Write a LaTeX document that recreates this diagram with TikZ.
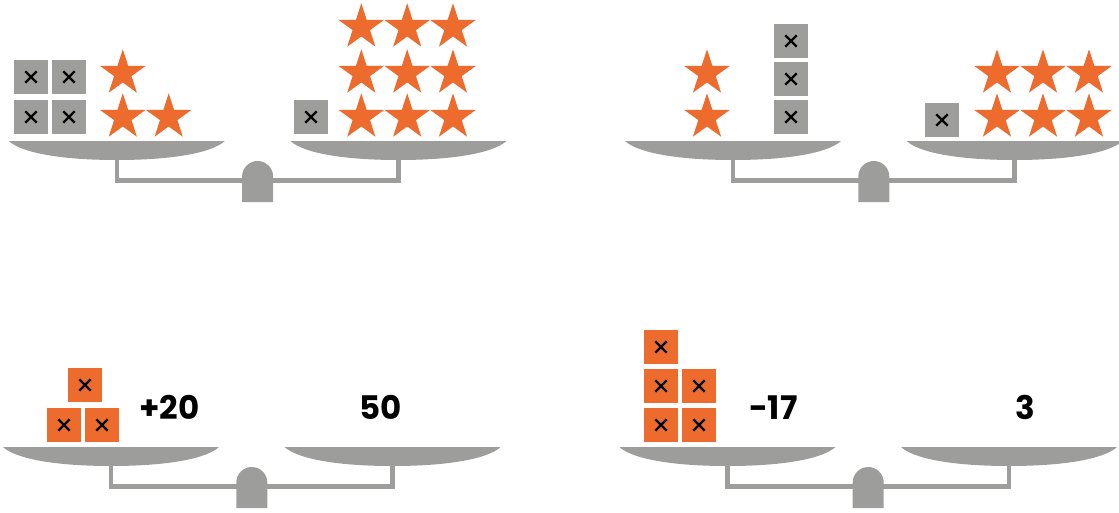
\documentclass[tikz,border=0pt]{standalone}
\usepackage{fontspec}
\setmainfont{Poppins}[BoldFont={* Bold}]
\usetikzlibrary{shapes.geometric}
\definecolor{scalegray}{HTML}{9D9D9C}
\definecolor{orng}{HTML}{EE6B2E}
\tikzset{
  xmark/.style={path picture={
    \draw[line width=2.3pt,black]
      ([shift={(-5.7pt,-5.7pt)}]path picture bounding box.center) -- ([shift={(5.7pt,5.7pt)}]path picture bounding box.center)
      ([shift={(-5.7pt,5.7pt)}]path picture bounding box.center) -- ([shift={(5.7pt,-5.7pt)}]path picture bounding box.center);}},
  graybox/.style={rectangle, minimum size=34pt, inner sep=0pt, fill=scalegray, xmark},
  orangebox/.style={rectangle, minimum size=34pt, inner sep=0pt, fill=orng, xmark},
  ostar/.style={star, star points=5, star point ratio=2.618, minimum size=48pt, inner sep=0pt, fill=orng},
  num/.style={anchor=base, inner sep=0pt, font=\fontsize{32.5}{36}\selectfont\bfseries},
  pan/.style={fill=scalegray},
  beam/.style={draw=scalegray, line width=4.6pt, miter limit=10},
}
\newcommand\drawbalance[2]{%
  \begin{scope}[shift={(#1,#2)}]
    \draw[beam] (-140.8,17) -- (-140.8,39.5) -- (140.8,39.5) -- (140.8,17);
    \foreach \c in {-140.8,140.8}{
      \fill[pan] (\c-108,0) -- (\c+108,0) .. controls (\c+95,12) and (\c+55,19) .. (\c,19)
        .. controls (\c-55,19) and (\c-95,12) .. cycle;
    }
    \fill[scalegray] (-15.5,61) -- (-15.5,35.5) arc[start angle=180, end angle=360, radius=15.5] -- (15.5,61) -- cycle;
  \end{scope}}
\begin{document}
\begin{tikzpicture}[x=1pt,y=-1pt]
\useasboundingbox (0,0) rectangle (1119,512);
% balances
\drawbalance{257.6}{141}
\drawbalance{873.8}{141}
\drawbalance{251.8}{447}
\drawbalance{868.2}{447}
% top-left
\node[graybox] (a1) at (31,77) {};
\node[graybox] (a2) at (69,77) {};
\node[graybox] (a3) at (31,117) {};
\node[graybox] (a4) at (69,117) {};
\node[ostar] (s1) at (122.8,73.3) {};
\node[ostar] (s2) at (122.8,117.3) {};
\node[ostar] (s3) at (168.7,117.3) {};
\node[graybox] (a5) at (311,117) {};
\foreach \i/\x in {1/361.3,2/407.2,3/453}{
  \foreach \j/\y in {1/27.3,2/73.3,3/117.3}{
    \node[ostar] (r\i\j) at (\x,\y) {};
  }
}
% top-right
\node[ostar] (t1) at (707,73.3) {};
\node[ostar] (t2) at (707,117.3) {};
\node[graybox] (b1) at (791,41) {};
\node[graybox] (b2) at (791,79) {};
\node[graybox] (b3) at (791,117) {};
\node[graybox] (b4) at (942,120) {};
\foreach \i/\x in {1/997,2/1043,3/1089}{
  \foreach \j/\y in {1/73.3,2/117.3}{
    \node[ostar] (u\i\j) at (\x,\y) {};
  }
}
% bottom-left
\node[orangebox] (c1) at (85,385) {};
\node[orangebox] (c2) at (64,425) {};
\node[orangebox] (c3) at (102,425) {};
\node[num] (n1) at (169.5,419) {+20};
\node[num] (n2) at (380.8,419) {50};
% bottom-right
\node[orangebox] (d1) at (661,347) {};
\node[orangebox] (d2) at (661,386) {};
\node[orangebox] (d3) at (699,386) {};
\node[orangebox] (d4) at (661,425) {};
\node[orangebox] (d5) at (699,425) {};
\node[num] (n3) at (773.3,419) {-17};
\node[num] (n4) at (1025.3,419) {3};
\end{tikzpicture}
\end{document}
